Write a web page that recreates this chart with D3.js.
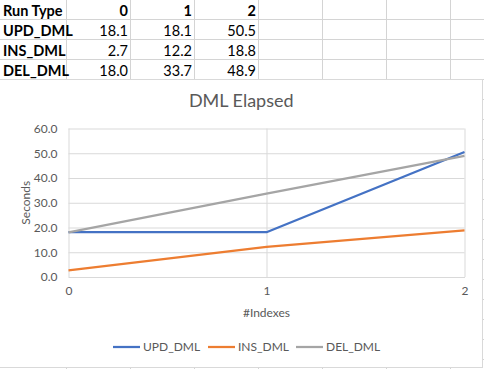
<!DOCTYPE html>
<html>
<head>
<meta charset="utf-8">
<script src="https://cdn.jsdelivr.net/npm/d3@7"></script>
<style>
	body { margin: 0; background: #fff; }
	svg { display: block; }
	.cell-text { font-family: Lato, "Liberation Sans", sans-serif; font-size: 14.5px; fill: #000; }
	.cell-head { font-weight: bold; }
	.chart-text { font-family: Lato, "Liberation Sans", sans-serif; fill: #595959; }
	.axis text { font-family: Lato, "Liberation Sans", sans-serif; font-size: 12px; fill: #595959; }
</style>
</head>
<body>
<svg id="sheet"></svg>
<script>
// Data from the sheet
const categories = ['0', '1', '2'];
const seriesNames = ['UPD_DML', 'INS_DML', 'DEL_DML'];
const updValues = [18.1, 18.1, 50.5];
const insValues = [2.7, 12.2, 18.8];
const delValues = [18.0, 33.7, 48.9];
const yTicks = [0, 10, 20, 30, 40, 50, 60];
const seriesColors = ['#4472c4', '#ed7d31', '#a5a5a5'];

const seriesValues = [updValues, insValues, delValues];

class LineChart {

	constructor(_config) {
		this.config = {
			parentElement: _config.parentElement,
			containerWidth: _config.containerWidth || 484,
			containerHeight: _config.containerHeight || 369,
			chartBox: _config.chartBox || { x: 0, y: 79.5, width: 482.5, height: 288 },
			margin: _config.margin || { top: 128.5, right: 19.5, bottom: 92, left: 68.5 }
		}
		this.data = seriesNames.map((name, i) => ({
			name: name,
			color: seriesColors[i],
			values: categories.map((c, j) => ({ category: c, value: seriesValues[i][j] }))
		}));

		this.initVis();
	}

	initVis() {
		let vis = this;

		vis.svg = d3.select(vis.config.parentElement)
			.attr('width', vis.config.containerWidth)
			.attr('height', vis.config.containerHeight);

		vis.drawSheet();

		// Chart object box
		const box = vis.config.chartBox;
		vis.svg.append('rect')
			.attr('x', box.x - 1)
			.attr('y', box.y)
			.attr('width', box.width + 1)
			.attr('height', box.height)
			.attr('fill', '#fff')
			.attr('stroke', '#d9d9d9')
			.attr('stroke-width', 1);

		vis.width = vis.config.containerWidth - vis.config.margin.left - vis.config.margin.right;
		vis.height = vis.config.containerHeight - vis.config.margin.top - vis.config.margin.bottom;

		// Scales
		vis.xScale = d3.scalePoint()
			.domain(categories)
			.range([0, vis.width]);

		vis.yScale = d3.scaleLinear()
			.domain([0, 60])
			.range([vis.height, 0]);

		vis.chart = vis.svg.append('g')
			.attr('transform', `translate(${vis.config.margin.left},${vis.config.margin.top})`);

		// Gridlines
		vis.chart.append('g')
			.attr('class', 'grid y-grid')
			.call(d3.axisLeft(vis.yScale).tickValues(yTicks).tickSize(-vis.width).tickFormat(''))
			.call(g => g.select('.domain').remove())
			.call(g => g.selectAll('line').attr('stroke', '#d9d9d9'));

		vis.chart.append('g')
			.attr('class', 'grid x-grid')
			.attr('transform', `translate(0,${vis.height})`)
			.call(d3.axisBottom(vis.xScale).tickSize(-vis.height).tickFormat(''))
			.call(g => g.select('.domain').remove())
			.call(g => g.selectAll('line').attr('stroke', '#d9d9d9'));

		// Axes
		vis.chart.append('g')
			.attr('class', 'axis y-axis')
			.call(d3.axisLeft(vis.yScale).tickValues(yTicks).tickFormat(d3.format('.1f')).tickSize(0).tickPadding(11))
			.call(g => g.select('.domain').remove());

		vis.chart.append('g')
			.attr('class', 'axis x-axis')
			.attr('transform', `translate(0,${vis.height})`)
			.call(d3.axisBottom(vis.xScale).tickSize(0).tickPadding(9))
			.call(g => g.select('.domain').attr('stroke', '#d9d9d9'));

		// Title
		vis.svg.append('text')
			.attr('class', 'chart-text')
			.attr('x', box.x + box.width / 2)
			.attr('y', 107)
			.attr('text-anchor', 'middle')
			.style('font-size', '18px')
			.text('DML Elapsed');

		// Axis labels
		vis.svg.append('text')
			.attr('class', 'chart-text')
			.attr('text-anchor', 'middle')
			.style('font-size', '12px')
			.attr('x', vis.config.margin.left + vis.width / 2)
			.attr('y', 317)
			.text('#Indexes');

		vis.svg.append('text')
			.attr('class', 'chart-text')
			.attr('text-anchor', 'middle')
			.style('font-size', '12px')
			.attr('transform', `translate(30, ${vis.config.margin.top + vis.height / 2}) rotate(-90)`)
			.text('Seconds');

		vis.renderVis();
		vis.drawLegend();
	}

	// Cells and values of the worksheet behind the chart
	drawSheet() {
		let vis = this;
		const colEdges = [66, 130, 194, 258, 322, 386, 450];
		const rowEdges = d3.range(19, 380, 20);

		vis.svg.append('g')
			.selectAll('line.col')
			.data(colEdges)
			.join('line')
			.attr('x1', d => d + 0.5)
			.attr('x2', d => d + 0.5)
			.attr('y1', 0)
			.attr('y2', vis.config.containerHeight)
			.attr('stroke', '#d4d4d4');

		vis.svg.append('g')
			.selectAll('line.row')
			.data(rowEdges)
			.join('line')
			.attr('x1', 0)
			.attr('x2', vis.config.containerWidth)
			.attr('y1', d => d + 0.5)
			.attr('y2', d => d + 0.5)
			.attr('stroke', '#d4d4d4');

		const rows = [['Run Type'].concat(categories)].concat(
			seriesNames.map((name, i) => [name].concat(seriesValues[i].map(v => v.toFixed(1))))
		);

		const cells = vis.svg.append('g');
		rows.forEach((row, r) => {
			row.forEach((txt, c) => {
				cells.append('text')
					.attr('class', 'cell-text' + (r === 0 || c === 0 ? ' cell-head' : ''))
					.attr('x', c === 0 ? 3 : colEdges[c] - 2)
					.attr('y', rowEdges[0] + r * 20 - 3)
					.attr('text-anchor', c === 0 ? 'start' : 'end')
					.text(txt);
			});
		});
	}

	renderVis() {
		let vis = this;

		const line = d3.line()
			.x(d => vis.xScale(d.category))
			.y(d => vis.yScale(d.value));

		vis.chart.selectAll('.series')
			.data(vis.data)
			.join('path')
			.attr('class', 'series')
			.attr('d', d => line(d.values))
			.attr('fill', 'none')
			.attr('stroke', d => d.color)
			.attr('stroke-width', 2.25)
			.attr('stroke-linejoin', 'round');
	}

	drawLegend() {
		let vis = this;
		const legendX = [113, 208, 296];

		const items = vis.svg.append('g')
			.attr('class', 'legend')
			.selectAll('g')
			.data(vis.data)
			.join('g')
			.attr('transform', (d, i) => `translate(${legendX[i]}, 347)`);

		items.append('line')
			.attr('x1', 0)
			.attr('x2', 27)
			.attr('stroke', d => d.color)
			.attr('stroke-width', 2.25);

		items.append('text')
			.attr('class', 'chart-text')
			.attr('x', 30)
			.attr('y', 4)
			.style('font-size', '12px')
			.text(d => d.name);
	}
}

new LineChart({ parentElement: '#sheet' });
</script>
</body>
</html>
